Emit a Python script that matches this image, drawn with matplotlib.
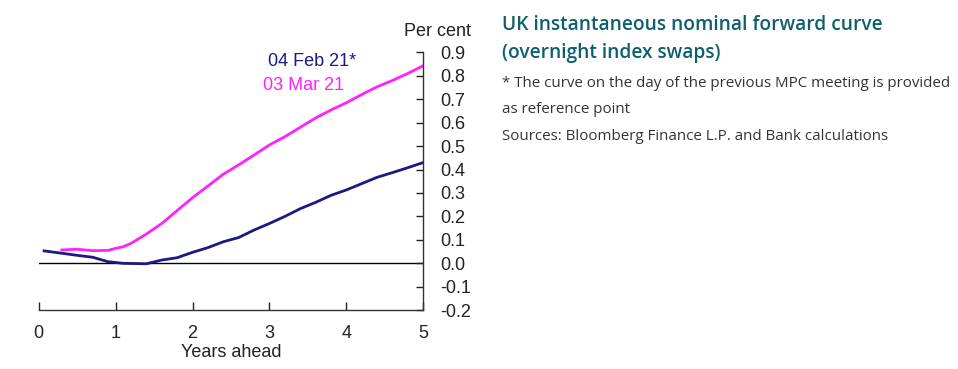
import numpy as np
import matplotlib
matplotlib.use('Agg')
import matplotlib.pyplot as plt

# Years ahead and forward rates (per cent)
years_feb = [0.07, 0.3, 0.5, 0.7, 0.9, 1.1, 1.4, 1.6, 1.8, 2.0, 2.2, 2.4, 2.6,
             2.8, 3.0, 3.2, 3.4, 3.6, 3.8, 4.0, 4.2, 4.4, 4.6, 4.8, 5.0]
feb_21 = [0.053, 0.043, 0.034, 0.026, 0.007, 0.0, -0.002, 0.014, 0.024, 0.047,
          0.067, 0.092, 0.11, 0.142, 0.17, 0.2, 0.233, 0.26, 0.29, 0.313,
          0.34, 0.367, 0.387, 0.408, 0.43]

years_mar = [0.3, 0.5, 0.7, 0.9, 1.0, 1.1, 1.2, 1.4, 1.6, 1.8, 2.0, 2.2, 2.4,
             2.6, 2.8, 3.0, 3.2, 3.4, 3.6, 3.8, 4.0, 4.2, 4.4, 4.6, 4.8, 5.0]
mar_21 = [0.057, 0.06, 0.054, 0.055, 0.064, 0.071, 0.085, 0.125, 0.17, 0.225,
          0.28, 0.33, 0.38, 0.42, 0.462, 0.505, 0.54, 0.58, 0.62, 0.654,
          0.685, 0.72, 0.753, 0.78, 0.81, 0.843]

x_ticks = [0, 1, 2, 3, 4, 5]
y_ticks = [-0.2, -0.1, 0.0, 0.1, 0.2, 0.3, 0.4, 0.5, 0.6, 0.7, 0.8, 0.9]

navy = '#1a1a80'
magenta = '#ff22ff'
teal = '#0e5f6e'

plt.rcParams['font.family'] = ['Liberation Sans', 'DejaVu Sans']

fig = plt.figure(figsize=(9.58, 3.69), dpi=100)
ax = fig.add_axes([0.0404, 0.1593, 0.4015, 0.699])

ax.axhline(0, color='black', lw=1.0, zorder=1)
ax.plot(years_feb, feb_21, color=navy, lw=2.0, zorder=3)
ax.plot(years_mar, mar_21, color=magenta, lw=2.0, zorder=2)

ax.set_xlim(0, 5)
ax.set_ylim(-0.2, 0.9)
ax.set_xticks(x_ticks)
ax.set_xticklabels([str(t) for t in x_ticks])
ax.set_yticks(y_ticks)
ax.set_yticklabels(['%.1f' % t for t in y_ticks])

for side in ['top', 'left']:
    ax.spines[side].set_visible(False)
for side in ['bottom', 'right']:
    ax.spines[side].set_color('#333333')
    ax.spines[side].set_linewidth(1.0)

ax.yaxis.tick_right()
ax.tick_params(axis='y', direction='in', length=5, width=1, pad=12,
               labelsize=13, colors='#222222')
ax.tick_params(axis='x', direction='in', length=6, width=1, pad=11,
               labelsize=13, colors='#222222')
ax.set_xlabel('Years ahead', fontsize=13, color='#222222', labelpad=1)

fig.text(438 / 958, 1 - 36 / 369, 'Per cent', fontsize=13, color='#222222',
         ha='center', va='baseline')
fig.text(268 / 958, 1 - 66 / 369, '04 Feb 21*', fontsize=13, color=navy,
         ha='left', va='baseline')
fig.text(263 / 958, 1 - 90 / 369, '03 Mar 21', fontsize=13, color=magenta,
         ha='left', va='baseline')

fig.text(502 / 958, 1 - 30 / 369, 'UK instantaneous nominal forward curve',
         fontsize=13.8, color=teal, fontfamily='Open Sans', fontweight='semibold',
         ha='left', va='baseline')
fig.text(502 / 958, 1 - 58 / 369, '(overnight index swaps)',
         fontsize=13.8, color=teal, fontfamily='Open Sans', fontweight='semibold',
         ha='left', va='baseline')
notes = ['* The curve on the day of the previous MPC meeting is provided',
         'as reference point',
         'Sources: Bloomberg Finance L.P. and Bank calculations']
for i, line in enumerate(notes):
    fig.text(502 / 958, 1 - (87 + 26.5 * i) / 369, line, fontsize=10.9,
             color='#333333', fontfamily='Open Sans', ha='left', va='baseline')

fig.savefig('out.png', dpi=100)
